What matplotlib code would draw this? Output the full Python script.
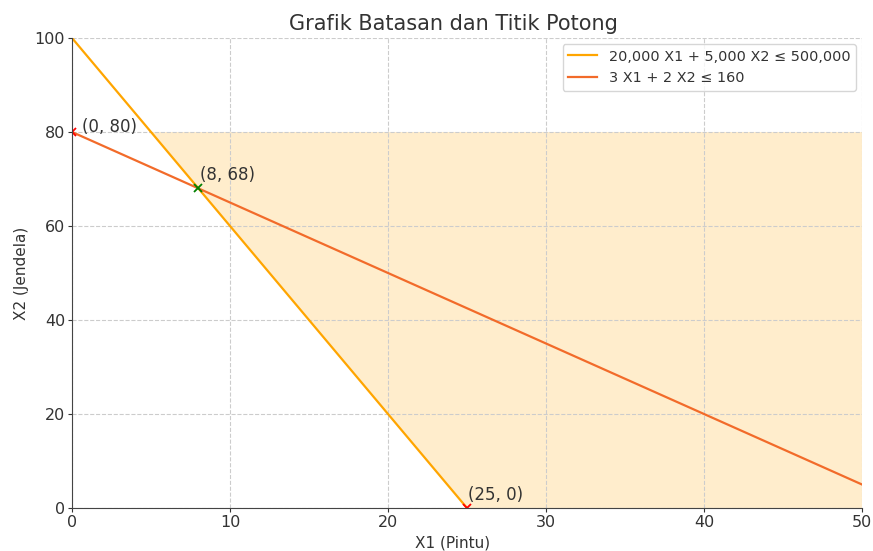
import numpy as np
import matplotlib.pyplot as plt

# Data
x_min, x_max = 0, 50
y_min, y_max = 0, 100
c1 = (20000, 5000, 500000)   # 20,000 X1 + 5,000 X2 <= 500,000
c2 = (3, 2, 160)             # 3 X1 + 2 X2 <= 160
points = [(0, 80), (8, 68), (25, 0)]
point_colors = ['red', 'green', 'red']
label_offsets = [(7, 0), (1, 6), (1, 6)]
labels = ['20,000 X1 + 5,000 X2 ≤ 500,000', '3 X1 + 2 X2 ≤ 160']

x = np.linspace(x_min, x_max, 400)
y1 = (c1[2] - c1[0] * x) / c1[1]
y2 = (c2[2] - c2[0] * x) / c2[1]

fig = plt.figure(figsize=(8.73, 5.51), dpi=100)
ax = fig.add_axes([72 / 873, 1 - 508 / 551, 790 / 873, 470 / 551])

text_col = '#333333'
ax.plot(x, y1, color='orange', lw=1.6, label=labels[0])
ax.plot(x, y2, color='#f26b2a', lw=1.6, label=labels[1])
ax.fill_between(x, y1, 80, where=(y1 <= 80), color='orange', alpha=0.2, lw=0)

for (px, py), c, off in zip(points, point_colors, label_offsets):
    ax.plot(px, py, marker='x', color=c, ms=5.5, mew=1.3)
    ax.annotate(f'({px}, {py})', (px, py), xytext=off, textcoords='offset points',
                fontsize=12, color=text_col)

ax.set_xlim(x_min, x_max)
ax.set_ylim(y_min, y_max)
ax.set_title('Grafik Batasan dan Titik Potong', fontsize=15, color=text_col,
             x=(453 - 72) / 790)
ax.set_xlabel('X1 (Pintu)', fontsize=11, color=text_col)
ax.xaxis.set_label_coords((453 - 72) / 790, -0.058)
ax.set_ylabel('X2 (Jendela)', fontsize=11, color=text_col)
ax.tick_params(labelsize=11.5, colors=text_col, length=3, pad=2)
ax.grid(True, ls='--', color='#cccccc', lw=0.8)
for s in ['top', 'right']:
    ax.spines[s].set_visible(False)
for s in ['left', 'bottom']:
    ax.spines[s].set_color('#444444')
ax.legend(loc='upper right', fontsize=10.4, labelcolor=text_col,
          borderaxespad=0.4)

fig.savefig('out.png', dpi=100)
